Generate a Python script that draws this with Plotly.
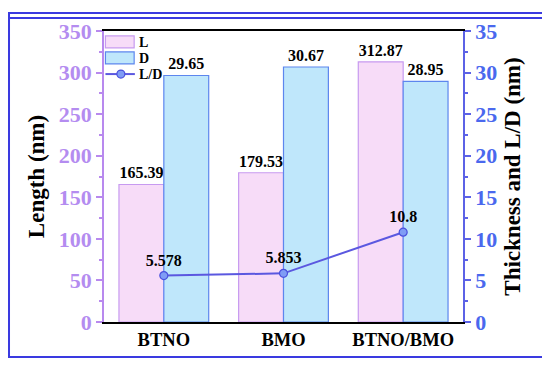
import plotly.graph_objects as go

categories = ["BTNO", "BMO", "BTNO/BMO"]
length_L = [165.39, 179.53, 312.87]
thickness_D = [29.65, 30.67, 28.95]
ratio_LD = [5.578, 5.853, 10.8]
left_ticks = [0, 50, 100, 150, 200, 250, 300, 350]
right_ticks = [0, 5, 10, 15, 20, 25, 30, 35]

FONT = "Liberation Serif, Times New Roman, serif"
PURPLE = "#b48cf0"
PURPLE_LINE = "#b889ee"
BLUE = "#4a68ee"
BLUE_LINE = "#5c62e6"
L_FILL, L_EDGE = "#f7dcf8", "#c79af0"
D_FILL, D_EDGE = "#bfe7fb", "#5d86ee"
LD_LINE, LD_MARK = "#5b58e0", "#7f9cf5"
BORDER = "#3a3ae0"

lbl = dict(family=FONT, size=16, color="black", weight="bold")

fig = go.Figure()
fig.add_trace(go.Bar(
    x=categories, y=length_L, name="L", yaxis="y",
    width=0.375, offset=-0.375,
    marker=dict(color=L_FILL, line=dict(color=L_EDGE, width=1.2)),
    text=[f"{v:.2f}" for v in length_L], textposition="outside",
    textfont=lbl, cliponaxis=False,
))
fig.add_trace(go.Bar(
    x=categories, y=thickness_D, name="D", yaxis="y2",
    width=0.375, offset=0,
    marker=dict(color=D_FILL, line=dict(color=D_EDGE, width=1.2)),
    text=[f"{v:.2f}" for v in thickness_D], textposition="outside",
    textfont=lbl, cliponaxis=False,
))
fig.add_trace(go.Scatter(
    x=categories, y=ratio_LD, name="L/D", yaxis="y2",
    mode="lines+markers+text",
    line=dict(color=LD_LINE, width=2),
    marker=dict(size=8, color=LD_MARK, line=dict(color="#4a50dd", width=1.2)),
    text=[str(v) for v in ratio_LD], textposition="top center",
    textfont=lbl, cliponaxis=False,
))

X0, X1, Y0, Y1 = -0.2646, 1.2284, -0.1203, 1.045
shapes = [
    dict(type="rect", xref="paper", yref="paper", x0=X0, x1=X1, y0=Y0, y1=1.062,
         line=dict(color=BORDER, width=2), layer="above"),
    dict(type="line", xref="paper", yref="paper", x0=X0, x1=X1, y0=Y1, y1=Y1,
         line=dict(color=BORDER, width=2), layer="above"),
    dict(type="rect", xref="paper", yref="paper", x0=0.004, x1=0.084, y0=0.942, y1=0.983,
         fillcolor=L_FILL, line=dict(color=L_EDGE, width=1.2)),
    dict(type="rect", xref="paper", yref="paper", x0=0.004, x1=0.084, y0=0.887, y1=0.928,
         fillcolor=D_FILL, line=dict(color=D_EDGE, width=1.2)),
    dict(type="line", xref="paper", yref="paper", x0=0.004, x1=0.086, y0=0.852, y1=0.852,
         line=dict(color=LD_LINE, width=2)),
    dict(type="circle", xref="paper", yref="paper", xsizemode="pixel", ysizemode="pixel",
         xanchor=0.047, yanchor=0.852, x0=-4, x1=4, y0=-4, y1=4,
         fillcolor=LD_MARK, line=dict(color="#4a50dd", width=1.2)),
]
annotations = [
    dict(text=t, xref="paper", yref="paper", x=0.093, y=yy, xanchor="left", yanchor="middle",
         showarrow=False, font=dict(family=FONT, size=14, color="black", weight="bold"))
    for t, yy in [("L", 0.962), ("D", 0.907), ("L/D", 0.852)]
]

fig.update_layout(
    width=542, height=357,
    margin=dict(l=96, r=87, t=23, b=43, autoexpand=False),
    paper_bgcolor="white", plot_bgcolor="white",
    font=dict(family=FONT, color="black"),
    showlegend=False,
    xaxis=dict(
        range=[-0.5, 2.5], showline=True, linecolor="black", linewidth=2,
        mirror=True, ticks="", showgrid=False, automargin=False,
        tickfont=dict(family=FONT, size=18.5, color="black", weight="bold"),
    ),
    yaxis=dict(
        range=[0, 350], tickvals=left_ticks, showgrid=False, zeroline=False,
        showline=True, linecolor=PURPLE_LINE, linewidth=1.5, automargin=False,
        ticks="outside", ticklen=6, tickcolor=PURPLE_LINE, tickwidth=1.5,
        minor=dict(ticks="outside", ticklen=3, dtick=25, tickcolor=PURPLE_LINE),
        tickfont=dict(family=FONT, size=22, color=PURPLE, weight="bold"),
        title=dict(text="Length (nm)", font=dict(family=FONT, size=23, color="black", weight="bold"),
                   standoff=8),
    ),
    yaxis2=dict(
        range=[0, 35], tickvals=right_ticks, overlaying="y", side="right",
        showgrid=False, zeroline=False, automargin=False,
        showline=True, linecolor=BLUE_LINE, linewidth=1.5,
        ticks="outside", ticklen=6, tickcolor=BLUE_LINE, tickwidth=1.5,
        minor=dict(ticks="outside", ticklen=3, dtick=2.5, tickcolor=BLUE_LINE),
        tickfont=dict(family=FONT, size=22, color=BLUE, weight="bold"),
        title=dict(text="Thickness and L/D (nm)", font=dict(family=FONT, size=23, color="black", weight="bold"),
                   standoff=8),
    ),
    shapes=shapes,
    annotations=annotations,
)

fig.write_html("out.html", config={"displayModeBar": False})
